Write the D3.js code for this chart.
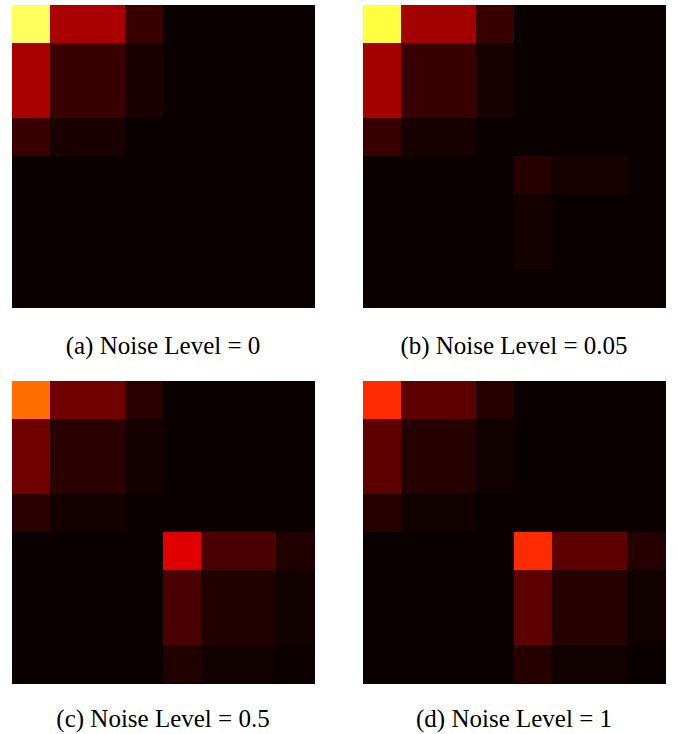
<!DOCTYPE html>
<html>
<head>
<meta charset="utf-8">
<script src="https://cdn.jsdelivr.net/npm/d3@7"></script>
<style>
  body { margin: 0; background: #fff; }
  .caption { font-family: "Liberation Serif", "DejaVu Serif", serif; font-size: 25px; fill: #000; }
</style>
</head>
<body>
<script>
// 8x8 similarity matrices, values on the 0..1 colour scale
var noise0 = [
    [0.84, 0.238, 0.238, 0.07, 0, 0, 0, 0],
    [0.238, 0.07, 0.07, 0.023, 0, 0, 0, 0],
    [0.238, 0.07, 0.07, 0.023, 0, 0, 0, 0],
    [0.07, 0.023, 0.023, 0, 0, 0, 0, 0],
    [0, 0, 0, 0, 0, 0, 0, 0],
    [0, 0, 0, 0, 0, 0, 0, 0],
    [0, 0, 0, 0, 0, 0, 0, 0],
    [0, 0, 0, 0, 0, 0, 0, 0]
];
var noise005 = [
    [0.81, 0.228, 0.228, 0.07, 0, 0, 0, 0],
    [0.228, 0.068, 0.068, 0.02, 0, 0, 0, 0],
    [0.228, 0.068, 0.068, 0.02, 0, 0, 0, 0],
    [0.068, 0.02, 0.02, 0, 0, 0, 0, 0],
    [0, 0, 0, 0, 0.04, 0.018, 0.018, 0],
    [0, 0, 0, 0, 0.016, 0, 0, 0],
    [0, 0, 0, 0, 0.016, 0, 0, 0],
    [0, 0, 0, 0, 0, 0, 0, 0]
];
var noise05 = [
    [0.53, 0.152, 0.152, 0.045, 0, 0, 0, 0],
    [0.152, 0.044, 0.044, 0.014, 0, 0, 0, 0],
    [0.152, 0.044, 0.044, 0.014, 0, 0, 0, 0],
    [0.044, 0.014, 0.014, 0, 0, 0, 0, 0],
    [0, 0, 0, 0, 0.32, 0.095, 0.095, 0.032],
    [0, 0, 0, 0, 0.095, 0.032, 0.032, 0.01],
    [0, 0, 0, 0, 0.095, 0.032, 0.032, 0.01],
    [0, 0, 0, 0, 0.032, 0.008, 0.008, 0.003]
];
var noise1 = [
    [0.43, 0.121, 0.121, 0.04, 0, 0, 0, 0],
    [0.121, 0.04, 0.04, 0.01, 0, 0, 0, 0],
    [0.121, 0.04, 0.04, 0.01, 0, 0, 0, 0],
    [0.04, 0.01, 0.01, 0, 0, 0, 0, 0],
    [0, 0, 0, 0, 0.43, 0.121, 0.121, 0.04],
    [0, 0, 0, 0, 0.121, 0.04, 0.04, 0.01],
    [0, 0, 0, 0, 0.121, 0.04, 0.04, 0.01],
    [0, 0, 0, 0, 0.04, 0.01, 0.01, 0]
];
var matrices = [noise0, noise005, noise05, noise1];
var captions = ["(a) Noise Level = 0", "(b) Noise Level = 0.05",
                "(c) Noise Level = 0.5", "(d) Noise Level = 1"];

var width = 678, height = 734;
var panelSize = 302;
var panels = [
    {x: 12, y: 5, cy: 354}, {x: 363, y: 5, cy: 354},
    {x: 12, y: 381, cy: 727}, {x: 363, y: 381, cy: 727}
];

// matplotlib "hot" colour map
var hotR = d3.scaleLinear().domain([0, 0.365079, 1]).range([0.0416, 1, 1]).clamp(true);
var hotG = d3.scaleLinear().domain([0, 0.365079, 0.746032, 1]).range([0, 0, 1, 1]).clamp(true);
var hotB = d3.scaleLinear().domain([0, 0.746032, 1]).range([0, 0, 1]).clamp(true);
function hot(v) {
    return d3.rgb(hotR(v) * 255, hotG(v) * 255, hotB(v) * 255).toString();
}

var svg = d3.select("body").append("svg")
    .attr("width", width)
    .attr("height", height);

var idx = d3.range(8);
var band = d3.scaleBand().domain(idx).range([0, panelSize]);

matrices.forEach(function (m, i) {
    var p = panels[i];
    var g = svg.append("g")
        .attr("transform", "translate(" + p.x + "," + p.y + ")");

    var cells = [];
    m.forEach(function (row, r) {
        row.forEach(function (v, c) {
            cells.push({r: r, c: c, v: v});
        });
    });

    g.selectAll("rect")
        .data(cells)
        .enter().append("rect")
        .attr("x", function (d) { return band(d.c); })
        .attr("y", function (d) { return band(d.r); })
        .attr("width", band.bandwidth() + 0.5)
        .attr("height", band.bandwidth() + 0.5)
        .attr("fill", function (d) { return hot(d.v); })
        .attr("shape-rendering", "crispEdges");

    svg.append("text")
        .attr("class", "caption")
        .attr("x", p.x + panelSize / 2)
        .attr("y", p.cy)
        .attr("text-anchor", "middle")
        .text(captions[i]);
});
</script>
</body>
</html>
